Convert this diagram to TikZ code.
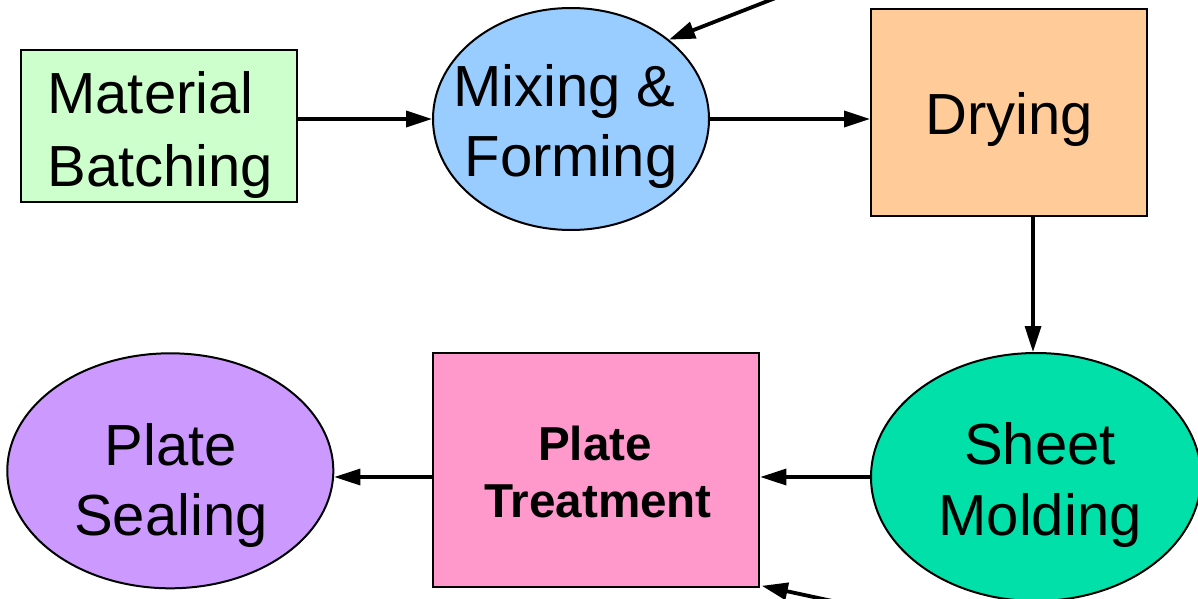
\documentclass[tikz,border=0pt]{standalone}
\usepackage{fontspec}
\setmainfont{Liberation Sans}
\usetikzlibrary{shapes.geometric,arrows.meta}
\definecolor{cmat}{HTML}{CCFFCC}
\definecolor{cmix}{HTML}{99CCFF}
\definecolor{cdry}{HTML}{FFCC99}
\definecolor{csheet}{HTML}{00E0A8}
\definecolor{cpt}{HTML}{FF99CC}
\definecolor{cseal}{HTML}{CC99FF}
\begin{document}
\begin{tikzpicture}[x=0.5pt,y=-0.5pt,
  shapebox/.style={draw=black,line width=1pt,rectangle,inner sep=0pt},
  shapeoval/.style={draw=black,line width=1pt,ellipse,inner sep=0pt},
  bigtext/.style={inner sep=0pt,align=center,font=\fontsize{29}{35}\selectfont},
  flow/.style={line width=1.7pt,-{Triangle[length=13pt,width=8pt]}},
  inflow/.style={line width=1.9pt,-{Triangle[length=13pt,width=8.5pt]}}]
\path[use as bounding box,clip] (0,0) rectangle (1198,599);
% shapes
\node[shapebox,fill=cmat,minimum width=138pt,minimum height=76pt] (mat) at (158.7,126.4) {};
\node[shapeoval,fill=cmix,minimum width=138pt,minimum height=111pt] (mix) at (571,119) {};
\node[shapebox,fill=cdry,minimum width=138pt,minimum height=103.5pt] (dry) at (1009,112.5) {};
\node[shapeoval,fill=csheet,minimum width=165pt,minimum height=124pt] (sheet) at (1036,477) {};
\node[shapebox,fill=cpt,minimum width=163.3pt,minimum height=117pt] (pt) at (596,470.3) {};
\node[shapeoval,fill=cseal,minimum width=163pt,minimum height=117.5pt] (seal) at (170.3,470.8) {};
% texts
\node[bigtext,align=left,anchor=west,font=\fontsize{29}{36.5}\selectfont] (matt) at (47,135) {Material\\Batching};
\node[bigtext] (mixt) at (571,127) {Mixing \&\hspace*{6.5pt}\\Forming};
\node[bigtext] (dryt) at (1009,120) {Drying};
\node[bigtext,font=\fontsize{29}{35.5}\selectfont] (sheett) at (1040,484.5) {Sheet\\Molding};
\node[inner sep=0pt,align=center,font=\fontsize{23.8}{28.3}\selectfont\bfseries] (ptt) at (598,472.2) {Plate\hspace*{3pt}\\Treatment};
\node[bigtext] (sealt) at (171,485.8) {Plate\\Sealing};
% helper coordinates
\coordinate (ytop) at (0,119);
\coordinate (xdown) at (1033,0);
\coordinate (in1) at (800,-11.6);
\coordinate (in2) at (860,607);
% connectors
\draw[flow] (mat.east |- ytop) -- (mix.west);
\draw[flow] (mix.east) -- (dry.west |- ytop);
\draw[flow] (dry.south -| xdown) -- (sheet.north -| xdown);
\draw[flow] (sheet.west) -- (pt.east |- sheet.west);
\draw[flow] (pt.west |- sheet.west) -- (seal.east |- sheet.west);
\draw[inflow] (in1) -- (mix.39.4);
\draw[inflow] (in2) -- ([shift={(1.5,-2.5)}]pt.south east);
\end{tikzpicture}
\end{document}
